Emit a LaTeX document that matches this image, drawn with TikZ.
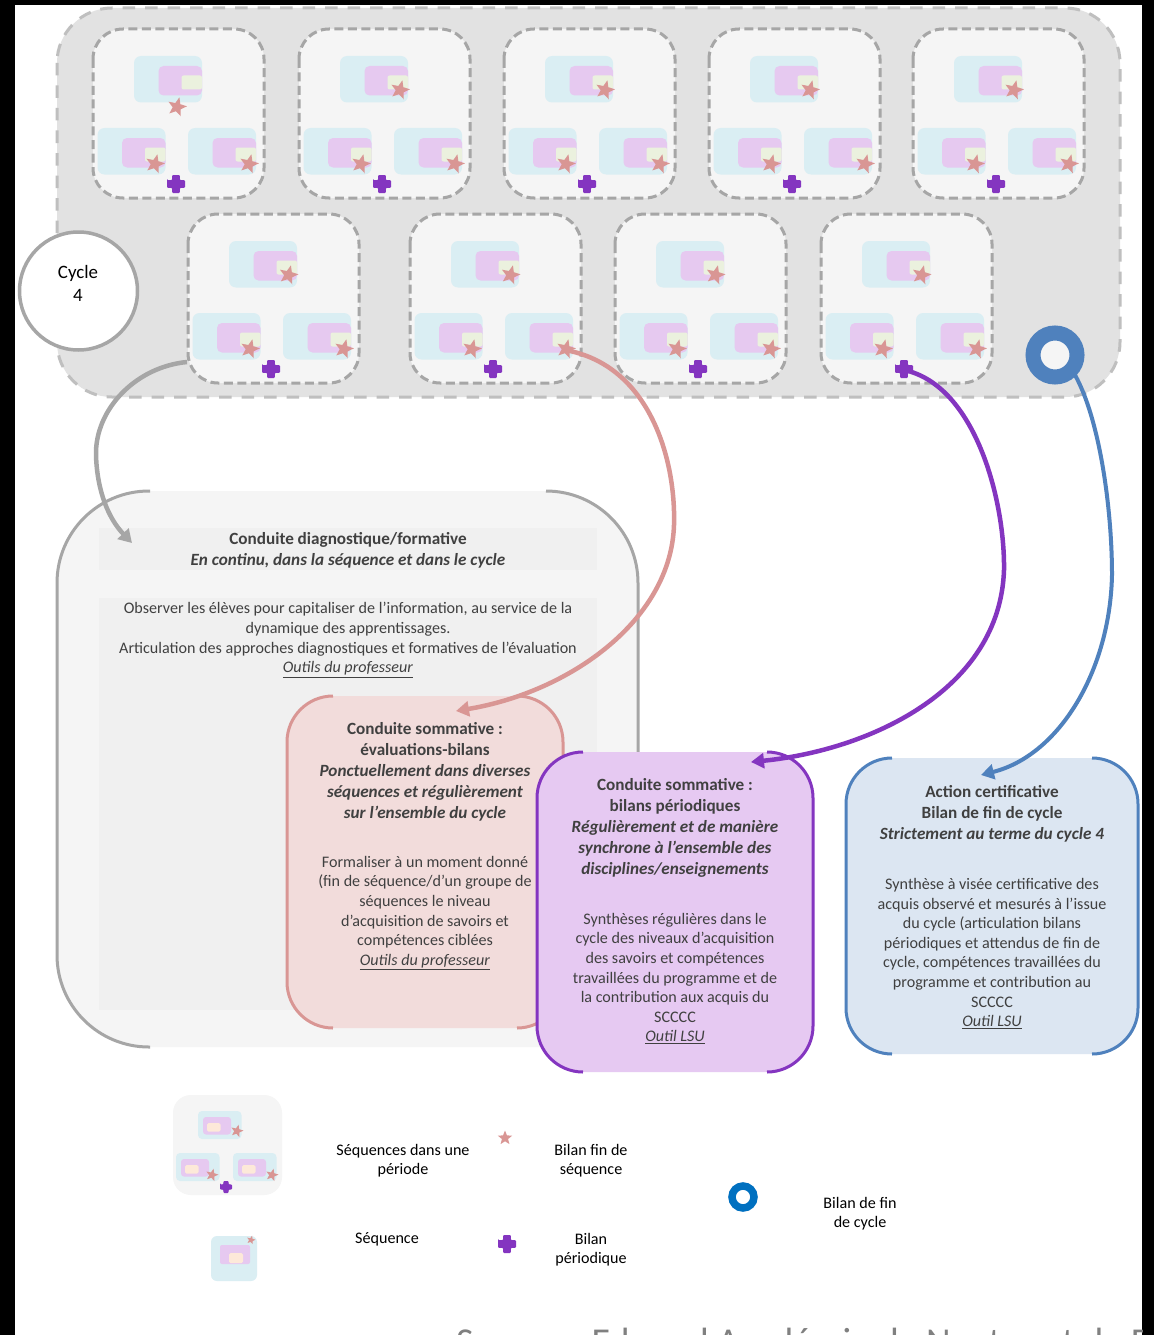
\documentclass[tikz,border=0pt]{standalone}
\usepackage{fontspec}
\setmainfont{Carlito}
\usetikzlibrary{arrows.meta,shapes.geometric}
\definecolor{fondgris}{HTML}{E2E2E2}
\definecolor{trait}{HTML}{A6A6A6}
\definecolor{traitclair}{HTML}{BFBFBF}
\definecolor{clair}{HTML}{F5F5F5}
\definecolor{zone}{HTML}{F0F0F0}
\definecolor{bleuseq}{HTML}{DAEEF3}
\definecolor{rosemauve}{HTML}{E6C9F0}
\definecolor{creme}{HTML}{EBF1DE}
\definecolor{peche}{HTML}{FDE9D9}
\definecolor{rouge}{HTML}{D99694}
\definecolor{rougefond}{HTML}{F2DCDB}
\definecolor{violet}{HTML}{8435C0}
\definecolor{violetfond}{HTML}{E6C9F2}
\definecolor{bleu}{HTML}{4F81BD}
\definecolor{bleuring}{HTML}{0070C0}
\definecolor{bleufond}{HTML}{DCE6F2}
\definecolor{encre}{HTML}{404040}
\tikzset{
	etoile/.style={star, star points=5, star point ratio=2.3, fill=rouge, inner sep=0pt, rotate=-14},
	lien/.style={line width=#1, -{Triangle[length=13pt,width=15pt]}},
	texte/.style={align=center, inner sep=0pt, text=encre, font=\fontsize{16.1}{19.6}\selectfont},
	titre/.style={align=center, inner sep=0pt, text=encre, font=\fontsize{17.15}{21}\selectfont},
	legende/.style={align=center, inner sep=0pt, text=black, font=\fontsize{16.1}{19.6}\selectfont},
	periode/.style={fill=clair, draw=trait, line width=3pt, dash pattern=on 9pt off 4.5pt, rounded corners=30pt},
}
% plus mark: centre, half width
\def\croix(#1,#2)#3{\fill[violet, rounded corners=1pt] (#1-#3,#2-#3*0.42) -| (#1-#3*0.42,#2-#3) -| (#1+#3*0.42,#2-#3*0.42) -| (#1+#3,#2+#3*0.42) -| (#1+#3*0.42,#2+#3) -| (#1-#3*0.42,#2+#3*0.42) -| cycle;}
% sequence card
\def\carte(#1,#2){\fill[bleuseq, rounded corners=7pt] (#1,#2) rectangle (#1+68,#2+46.5);
	\fill[rosemauve, rounded corners=5pt] (#1+24.5,#2+10) rectangle (#1+68,#2+39.5);
	\fill[creme, rounded corners=2pt] (#1+47.5,#2+19.5) rectangle (#1+68,#2+33.5);}
% one period box
\def\bloc(#1,#2)(#3,#4)#5{\path[periode] (#1,#2) rectangle (#1+171,#2+169);
	\carte(#1+41,#2+27)
	\carte(#1+4.5,#2+99)
	\carte(#1+95,#2+99)
	\node[etoile, minimum size=20pt] (#5a) at (#1+#3,#2+#4) {};
	\node[etoile, minimum size=20pt] (#5b) at (#1+62,#2+135) {};
	\node[etoile, minimum size=20pt] (#5c) at (#1+156,#2+135) {};
	\croix(#1+83,#2+155){9}}

\begin{document}
\begin{tikzpicture}[x=1pt,y=-1pt]
	\useasboundingbox (0,0) rectangle (1154,1335);
	\fill[black] (0,0) rectangle (1154,1335);
	\fill[white] (15,5) rectangle (1142,1335);
	
	%%% cycle
	\path[fill=fondgris, draw=traitclair, line width=3pt, dash pattern=on 12.5pt off 10pt, rounded corners=55pt] (57,8) rectangle (1120,397);
	\foreach \px/\nom in {93/ba,299/bb,504/bc,709/bd,913/be}{
		\ifnum\px=93
			\bloc(\px,29)(84,78){\nom}
		\else
			\bloc(\px,29)(101,61){\nom}
		\fi
	}
	\foreach \px/\nom in {188/bf,410/bg,615/bh,821/bi}{
		\bloc(\px,214)(100.5,61){\nom}
	}
	\node[circle, fill=white, draw=trait, line width=3.5pt, minimum size=118pt, inner sep=0pt] (cycle) at (78.5,291) {};
	\node[align=center, inner sep=0pt, font=\fontsize{18.9}{23}\selectfont] (cyclenom) at (78,283.5) {Cycle\\4};
	\node[circle, fill=clair, draw=bleu, line width=15pt, minimum size=44pt, inner sep=0pt] (anneau) at (1055,355) {};
	
	%%% grey panel
	\fill[clair, rounded corners=92pt] (57,491) rectangle (638,1047);
	\fill[zone] (99,528) rectangle (597,570);
	\fill[zone] (99,598) rectangle (597,1010);
	\draw[trait, line width=3pt, rounded corners=92pt] (150,491) -- (57,491) -- (57,1047) -- (150,1047);
	\draw[trait, line width=3pt, rounded corners=92pt] (546,491) -- (638,491) -- (638,800);
	\node[titre] (diagtitre) at (348,550.5) {\textbf{Conduite diagnostique/formative}\\\textbf{\textit{En continu, dans la séquence et dans le cycle}}};
	\node[texte] (diagtexte) at (348,640) {Observer les élèves pour capitaliser de l’information, au service de la\\dynamique des apprentissages.\\Articulation des approches diagnostiques et formatives de l’évaluation\\\underline{\textit{Outils du professeur}}};
	
	%%% pink panel
	\fill[rougefond, rounded corners=46pt] (287,696) rectangle (563,1028);
	\draw[rouge, line width=3pt, rounded corners=46pt] (333,696) -- (287,696) -- (287,1028) -- (333,1028);
	\draw[rouge, line width=3pt, rounded corners=46pt] (517,696) -- (563,696) -- (563,780);
	\draw[rouge, line width=3pt, rounded corners=46pt] (517,1028) -- (563,1028) -- (563,980);
	\node[titre] (sommtitre) at (425,772) {\textbf{Conduite sommative :}\\\textbf{évaluations-bilans}\\\textbf{\textit{Ponctuellement dans diverses}}\\\textbf{\textit{séquences et régulièrement}}\\\textbf{\textit{sur l’ensemble du cycle}}};
	\node[texte] (sommtexte) at (425,913) {Formaliser à un moment donné\\(fin de séquence/d’un groupe de\\séquences le niveau\\d’acquisition de savoirs et\\compétences ciblées\\\underline{\textit{Outils du professeur}}};
	
	%%% purple panel
	\fill[violetfond, rounded corners=46pt] (537,752) rectangle (813,1072);
	\draw[violet, line width=3pt, rounded corners=46pt] (583,752) -- (537,752) -- (537,1072) -- (583,1072);
	\draw[violet, line width=3pt, rounded corners=46pt] (767,752) -- (813,752) -- (813,1072) -- (767,1072);
	\node[titre] (perititre) at (675,828) {\textbf{Conduite sommative :}\\\textbf{bilans périodiques}\\\textbf{\textit{Régulièrement et de manière}}\\\textbf{\textit{synchrone à l’ensemble des}}\\\textbf{\textit{disciplines/enseignements}}};
	\node[texte] (peritexte) at (675,978.5) {Synthèses régulières dans le\\cycle des niveaux d’acquisition\\des savoirs et compétences\\travaillées du programme et de\\la contribution aux acquis du\\SCCCC\\\underline{\textit{Outil LSU}}};
	
	%%% blue panel
	\fill[bleufond, rounded corners=46pt] (846,758) rectangle (1138,1054);
	\draw[bleu, line width=3pt, rounded corners=46pt] (892,758) -- (846,758) -- (846,1054) -- (892,1054);
	\draw[bleu, line width=3pt, rounded corners=46pt] (1092,758) -- (1138,758) -- (1138,1054) -- (1092,1054);
	\node[titre] (certitre) at (992,814) {\textbf{Action certificative}\\\textbf{Bilan de fin de cycle}\\\textbf{\textit{Strictement au terme du cycle 4}}};
	\node[texte] (certexte) at (992,953.5) {Synthèse à visée certificative des\\acquis observé et mesurés à l’issue\\du cycle (articulation bilans\\périodiques et attendus de fin de\\cycle, compétences travaillées du\\programme et contribution au\\SCCCC\\\underline{\textit{Outil LSU}}};
	
	%%% arrows
	\coordinate (gris1) at (187,362);
	\coordinate (gris2) at (132,543);
	\coordinate (rose1) at (565,350);
	\coordinate (rose2) at (456,711);
	\coordinate (viol1) at (904,370);
	\coordinate (viol2) at (751,762);
	\coordinate (bleu1) at (1075,375);
	\coordinate (bleu2) at (981,775);
	\draw[lien=4.5pt, trait] (gris1) .. controls (135,367) and (95,410) .. (96,455) .. controls (97,490) and (108,518) .. (gris2);
	\draw[lien=4.5pt, rouge] (rose1) .. controls (650,365) and (676,460) .. (674,525) .. controls (671,620) and (570,692) .. (rose2);
	\draw[lien=4.5pt, violet] (viol1) .. controls (975,385) and (1005,500) .. (1004,570) .. controls (1000,690) and (870,750) .. (viol2);
	\draw[lien=4pt, bleu] (bleu1) .. controls (1100,420) and (1112,510) .. (1112,575) .. controls (1110,670) and (1060,755) .. (bleu2);
	
	%%% legend
	\fill[clair, rounded corners=18pt] (173,1095) rectangle (282,1195);
	\foreach \lx/\ly/\sx/\sy/\nom in {198/1111/237/1131/la,176/1153/212/1175/lb,233/1153/272/1175/lc}{
		\fill[bleuseq, rounded corners=4pt] (\lx,\ly) rectangle (\lx+43.5,\ly+28);
		\fill[rosemauve, rounded corners=3pt] (\lx+5,\ly+6) rectangle (\lx+33,\ly+23.5);
		\fill[peche, rounded corners=1.5pt] (\lx+9,\ly+12) rectangle (\lx+22.5,\ly+20.5);
		\node[etoile, minimum size=13pt] (\nom) at (\sx,\sy) {};
	}
	\croix(226,1187){6}
	\fill[bleuseq, rounded corners=6pt] (211,1236) rectangle (257,1281);
	\fill[rosemauve, rounded corners=2pt] (220,1245) rectangle (250,1264);
	\fill[peche, rounded corners=1.5pt] (229,1253) rectangle (243,1263);
	\node[etoile, minimum size=9pt] (ld) at (251,1240) {};
	\node[etoile, rotate=14, minimum size=15pt] (le) at (505,1138) {};
	\croix(507,1244){9}
	\node[circle, draw=bleuring, line width=7.5pt, minimum size=22pt, inner sep=0pt] (lf) at (743,1197) {};
	\node[legende] (lseq) at (403,1160.5) {Séquences dans une\\période};
	\node[legende] (lfin) at (591,1160.5) {Bilan fin de\\séquence};
	\node[legende] (lune) at (387,1239) {Séquence};
	\node[legende] (lper) at (591,1249.5) {Bilan\\périodique};
	\node[legende] (lcyc) at (860,1213.5) {Bilan de fin\\de cycle};
	
	%%% source, cut by the page
	\begin{scope}
		\clip (15,5) rectangle (1142,1335);
		\node[anchor=base west, inner sep=0pt, text=black!50, font=\fontsize{38}{44}\selectfont] (source) at (456,1354.5) {Source : Eduscol Académie de Nantes et de Poitiers};
	\end{scope}
\end{tikzpicture}
\end{document}
